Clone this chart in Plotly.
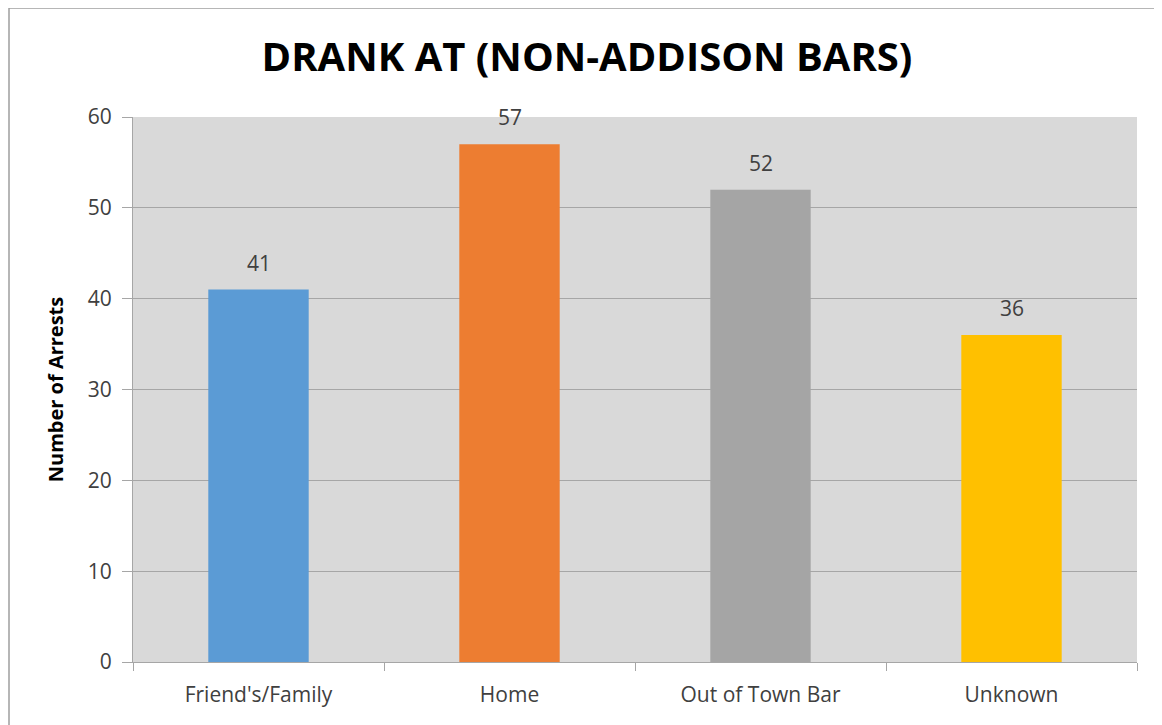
import plotly.graph_objects as go

# chart data
categories = ["Friend's/Family", "Home", "Out of Town Bar", "Unknown"]
arrests = [41, 57, 52, 36]
bar_colors = ["#5B9BD5", "#ED7D31", "#A5A5A5", "#FFC000"]

FONT = "Open Sans"
GRID = "#A6A6A6"
TEXT = "#404040"

# page puts the figure 8px in from the top-left corner
OFF = 8
W, H = 1162, 725
L, R, T, B = 133 - OFF, 33, 117 - OFF, 71
pw, ph = W - L - R, H - T - B

fig = go.Figure()
fig.add_trace(
    go.Bar(
        x=categories,
        y=arrests,
        marker=dict(color=bar_colors, line=dict(width=0)),
        width=0.4,
        hoverinfo="x+y",
        showlegend=False,
    )
)

# value labels above bars
annotations = [
    dict(
        x=c, y=v, xref="x", yref="y", text=str(v), showarrow=False,
        yanchor="bottom", yshift=11,
        font=dict(family=FONT, size=21, color=TEXT),
    )
    for c, v in zip(categories, arrests)
]

# outer chart frame (cropped at right and bottom in the original)
fig.add_shape(
    type="rect", xref="paper", yref="paper",
    x0=(1 - L) / pw, x1=(W + 20 - L) / pw,
    y0=(T + ph - (H + 20)) / ph, y1=(T + ph - 0) / ph,
    line=dict(color="#9E9E9E", width=1.5), fillcolor="rgba(0,0,0,0)", layer="below",
)

fig.update_layout(
    width=W,
    height=H,
    margin=dict(l=L, r=R, t=T, b=B),
    paper_bgcolor="white",
    plot_bgcolor="#D9D9D9",
    title=dict(
        text="<b>DRANK AT (NON-ADDISON BARS)</b>",
        x=(587 - OFF) / W, xanchor="center", y=1 - (57 - OFF) / H, yanchor="middle",
        font=dict(family=FONT, size=40, color="black"),
    ),
    font=dict(family=FONT, color=TEXT),
    xaxis=dict(
        showgrid=False,
        showline=True, linecolor=GRID, linewidth=1,
        ticks="outside", tickson="boundaries", ticklen=8, tickcolor=GRID,
        ticklabelstandoff=14,
        tickfont=dict(family=FONT, size=21, color=TEXT),
    ),
    yaxis=dict(
        range=[0, 60], dtick=10,
        showgrid=True, gridcolor=GRID, gridwidth=1,
        showline=True, linecolor=GRID, linewidth=1,
        zeroline=False,
        ticks="outside", ticklen=10, tickcolor=GRID,
        ticklabelstandoff=6,
        tickfont=dict(family=FONT, size=21, color=TEXT),
        title=dict(text="<b>Number of Arrests</b>", font=dict(family=FONT, size=20, color="black"), standoff=18),
    ),
    annotations=annotations,
)

fig.write_html("out.html")
